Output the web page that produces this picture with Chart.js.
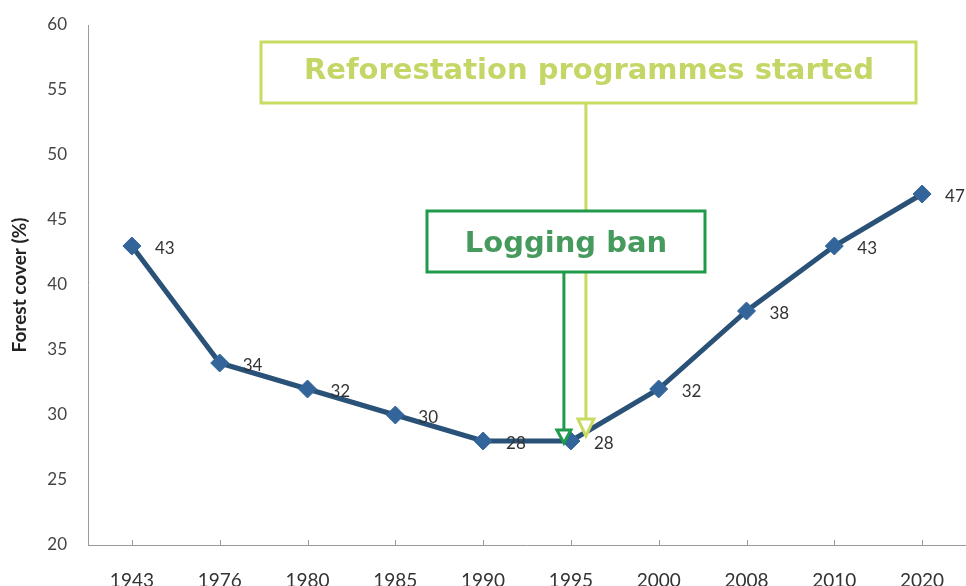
<!DOCTYPE html>
<html><head><meta charset="utf-8">
<script src="https://cdn.jsdelivr.net/npm/chart.js@4.4.1/dist/chart.umd.min.js"></script>
<style>
html,body{margin:0;padding:0;background:#fff;overflow:hidden;width:966px;height:586px}
#wrap{position:absolute;left:0;top:0;width:976px;height:586px}
</style></head>
<body><div id="wrap"><canvas id="c"></canvas></div>
<script>
const years = ['1943','1976','1980','1985','1990','1995','2000','2008','2010','2020'];
const forestCover = [43,34,32,30,28,28,32,38,43,47];
const yTickValues = [20,25,30,35,40,45,50,55,60];
const yAxisTitle = 'Forest cover (%)';
const reforestLabel = 'Reforestation programmes started';
const loggingLabel = 'Logging ban';
const eventYear = '1995';

const overlay = {
  id: 'overlay',
  afterDatasetsDraw(chart) {
    const ctx = chart.ctx, xs = chart.scales.x, ys = chart.scales.y, ca = chart.chartArea;
    ctx.save();
    ctx.strokeStyle = '#9a9a9a'; ctx.lineWidth = 1;
    years.forEach((y, i) => {
      const px = Math.round(xs.getPixelForValue(i)) + 0.5;
      ctx.beginPath(); ctx.moveTo(px, ca.bottom); ctx.lineTo(px, ca.bottom - 5); ctx.stroke();
    });
    ctx.fillStyle = '#333'; ctx.font = '17px Lato, "Liberation Sans", sans-serif';
    ctx.textAlign = 'left'; ctx.textBaseline = 'middle';
    forestCover.forEach((v, i) => {
      ctx.fillText(String(v), xs.getPixelForValue(i) + 23, ys.getPixelForValue(v) + 3);
    });
    const ei = years.indexOf(eventYear);
    const ex = xs.getPixelForValue(ei);
    const ey = ys.getPixelForValue(forestCover[ei]);
    const yg = '#c9dc62';
    const rx = ex + 15;
    ctx.strokeStyle = yg; ctx.lineWidth = 3;
    ctx.beginPath(); ctx.moveTo(rx, 103); ctx.lineTo(rx, ey - 22); ctx.stroke();
    ctx.fillStyle = '#fff';
    ctx.beginPath(); ctx.moveTo(rx - 8, ey - 22); ctx.lineTo(rx + 8, ey - 22); ctx.lineTo(rx, ey - 5); ctx.closePath();
    ctx.fill(); ctx.stroke();
    ctx.fillStyle = '#fff'; ctx.lineWidth = 3; ctx.strokeStyle = yg;
    ctx.fillRect(261, 42, 655, 61); ctx.strokeRect(261, 42, 655, 61);
    ctx.fillStyle = '#c4d766'; ctx.font = 'bold 29px "DejaVu Sans", Verdana, sans-serif';
    ctx.textAlign = 'center'; ctx.textBaseline = 'middle';
    ctx.fillText(reforestLabel, 589, 71);
    const g = '#1f9b4b';
    const lx = ex - 7;
    ctx.strokeStyle = g; ctx.lineWidth = 3;
    ctx.beginPath(); ctx.moveTo(lx, 272); ctx.lineTo(lx, ey - 10); ctx.stroke();
    ctx.fillStyle = '#fff';
    ctx.beginPath(); ctx.moveTo(lx - 7, ey - 11); ctx.lineTo(lx + 7, ey - 11); ctx.lineTo(lx, ey + 2); ctx.closePath();
    ctx.fill(); ctx.stroke();
    ctx.fillStyle = '#fff'; ctx.strokeStyle = g; ctx.lineWidth = 3;
    ctx.fillRect(427, 211, 278, 61); ctx.strokeRect(427, 211, 278, 61);
    ctx.fillStyle = '#479a5e'; ctx.font = 'bold 29px "DejaVu Sans", Verdana, sans-serif';
    ctx.fillText(loggingLabel, 566, 244);
    ctx.restore();
  }
};

new Chart(document.getElementById('c'), {
  type: 'line',
  data: {
    labels: years,
    datasets: [{
      data: forestCover,
      borderColor: '#2a5177',
      borderWidth: 5,
      pointStyle: 'rectRot',
      pointRadius: 9,
      pointBackgroundColor: '#33659a',
      pointBorderColor: '#33659a',
      pointBorderWidth: 1,
      tension: 0
    }]
  },
  options: {
    responsive: true,
    maintainAspectRatio: false,
    animation: false,
    layout: { padding: { top: 25, right: 5, left: 0, bottom: 0 } },
    plugins: { legend: { display: false }, tooltip: { enabled: false } },
    scales: {
      x: {
        offset: true,
        grid: { display: false, drawTicks: false },
        border: { display: true, color: '#9a9a9a', width: 1 },
        ticks: { color: '#333', font: { family: 'Lato, "Liberation Sans", sans-serif', size: 19 }, padding: 24, maxRotation: 0, autoSkip: false },
        afterFit(s) { s.height = 41; s.paddingTop = 0; s.paddingBottom = 0; }
      },
      y: {
        min: 20, max: 60,
        afterBuildTicks(s) { s.ticks = yTickValues.map(v => ({ value: v })); },
        grid: { display: false, drawTicks: false },
        border: { display: true, color: '#9a9a9a', width: 1 },
        ticks: { color: '#444', font: { family: 'Lato, "Liberation Sans", sans-serif', size: 17 }, padding: 21 },
        title: { display: true, text: yAxisTitle, color: '#222', font: { family: 'Lato, "Liberation Sans", sans-serif', size: 19, weight: 'bold' }, padding: { top: 8, bottom: 0 } },
        afterFit(s) { s.width = 88; s.paddingTop = 0; s.paddingBottom = 0; }
      }
    }
  },
  plugins: [overlay]
});
</script>
</body></html>
